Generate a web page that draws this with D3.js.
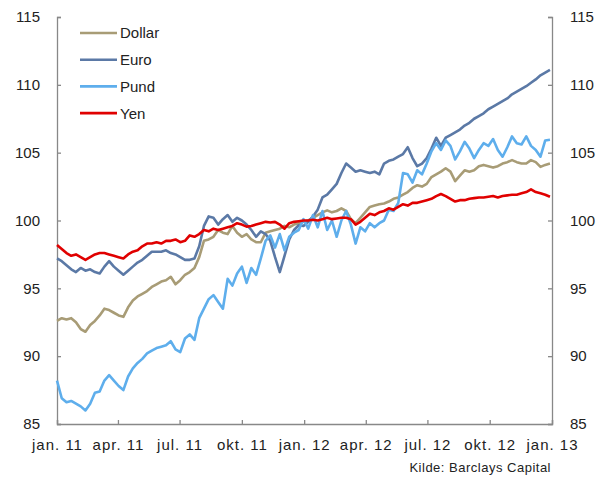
<!DOCTYPE html>
<html>
<head>
<meta charset="utf-8">
<script src="https://cdn.jsdelivr.net/npm/d3@7"></script>
<style>
  body { margin: 0; background: #fff; }
  text { font-family: "Liberation Sans", Arial, sans-serif; fill: #222; }
</style>
</head>
<body>
<div id="chart"></div>
<script>
// Weekly index values, jan. 2011 - jan. 2013
var dollar = [92.6, 92.8, 92.7, 92.8, 92.5, 92.0, 91.8, 92.3, 92.6, 93.0,
  93.5, 93.4, 93.2, 93.0, 92.9, 93.6, 94.1, 94.4, 94.6, 94.8,
  95.1, 95.3, 95.5, 95.6, 95.85, 95.3, 95.6, 96.0, 96.2, 96.5,
  97.3, 98.5, 98.6, 98.8, 99.3, 99.1, 99.0, 99.6, 99.1, 98.8,
  99.0, 98.6, 98.4, 98.4, 99.1, 99.2, 99.3, 99.4, 99.6, 99.5,
  99.7, 99.8, 99.9, 100.0, 100.2, 100.4, 100.6, 100.75, 100.6, 100.7,
  100.9, 100.7, 100.1, 99.8, 100.2, 100.6, 101.0, 101.1, 101.2, 101.25,
  101.4, 101.6, 101.7, 101.9, 102.1, 102.4, 102.6, 102.5, 102.7, 103.2,
  103.4, 103.6, 103.85, 103.6, 102.9, 103.3, 103.7, 103.6, 103.7, 104.0,
  104.1, 104.0, 103.9, 104.0, 104.2, 104.3, 104.45, 104.3, 104.2, 104.2,
  104.45, 104.3, 103.95, 104.1, 104.2];

var euro = [97.2, 97.0, 96.7, 96.4, 96.2, 96.5, 96.3, 96.4, 96.2, 96.1,
  96.6, 97.0, 96.6, 96.3, 96.0, 96.3, 96.6, 96.9, 97.1, 97.4,
  97.7, 97.7, 97.7, 97.8, 97.6, 97.5, 97.3, 97.1, 97.1, 97.2,
  98.1, 99.6, 100.3, 100.2, 99.7, 100.1, 100.4, 99.9, 100.2, 100.0,
  99.7, 99.3, 98.8, 99.2, 99.0, 98.5, 97.3, 96.2, 97.4, 98.6,
  99.3, 99.65, 99.6, 99.9, 100.3, 100.8, 101.7, 101.9, 102.3, 102.7,
  103.5, 104.2, 103.9, 103.6, 103.7, 103.6, 103.5, 103.6, 103.4, 104.2,
  104.4, 104.5, 104.7, 104.9, 105.4, 104.6, 104.0, 104.2, 104.6, 105.3,
  106.1, 105.5, 106.1, 106.3, 106.5, 106.7, 107.0, 107.2, 107.5, 107.7,
  107.9, 108.2, 108.4, 108.6, 108.8, 109.0, 109.3, 109.5, 109.7, 109.9,
  110.15, 110.4, 110.7, 110.9, 111.1];

var pund = [88.2, 86.9, 86.6, 86.7, 86.5, 86.3, 86.0, 86.5, 87.3, 87.4,
  88.2, 88.6, 88.2, 87.8, 87.5, 88.5, 89.1, 89.5, 89.8, 90.2,
  90.4, 90.6, 90.7, 90.8, 91.1, 90.5, 90.3, 91.3, 91.6, 91.2,
  92.8, 93.5, 94.2, 94.5, 94.0, 93.5, 95.7, 95.2, 96.1, 96.6,
  95.4, 96.5, 96.0, 97.2, 98.5, 98.9, 98.0, 99.0, 97.8, 98.8,
  99.1, 99.3, 100.1, 99.4, 100.4, 99.5, 100.7, 99.3, 100.0, 98.8,
  100.0, 100.7, 99.7, 98.3, 99.5, 99.2, 99.8, 99.5, 99.8, 100.0,
  100.8, 100.7, 101.3, 103.5, 103.4, 102.8, 103.7, 103.4, 104.2, 105.1,
  105.7, 105.2, 105.9, 105.5, 104.5, 105.1, 105.8, 105.3, 104.6, 105.2,
  105.7, 105.5, 106.0, 105.2, 104.7, 105.4, 106.2, 105.7, 105.6, 106.2,
  105.5, 105.2, 104.7, 105.9, 105.95];

var yen = [98.2, 97.9, 97.6, 97.4, 97.5, 97.3, 97.1, 97.3, 97.5, 97.6,
  97.6, 97.5, 97.4, 97.3, 97.2, 97.5, 97.7, 97.8, 98.1, 98.3,
  98.3, 98.4, 98.3, 98.5, 98.5, 98.6, 98.4, 98.5, 98.9, 98.8,
  99.0, 99.3, 99.2, 99.4, 99.3, 99.4, 99.5, 99.6, 99.8, 99.7,
  99.55, 99.6, 99.7, 99.8, 99.9, 99.85, 99.9, 99.7, 99.4, 99.8,
  99.9, 99.95, 100.0, 100.0, 100.05, 100.0, 100.1, 100.2, 100.1, 100.15,
  100.2, 100.2, 100.1, 99.7, 99.9, 100.2, 100.5, 100.4, 100.6, 100.7,
  100.9, 100.8, 101.0, 101.2, 101.1, 101.3, 101.3, 101.4, 101.5, 101.6,
  101.8, 101.95, 101.8, 101.6, 101.4, 101.5, 101.5, 101.6, 101.65, 101.7,
  101.7, 101.75, 101.8, 101.7, 101.8, 101.85, 101.9, 101.9, 102.0, 102.1,
  102.3, 102.1, 102.0, 101.9, 101.75];

var seriesNames = ["Dollar", "Euro", "Pund", "Yen"];
var seriesColors = ["#a89c76", "#5b79a6", "#5eaeec", "#e00000"];
var yTicks = [85, 90, 95, 100, 105, 110, 115];
var xTickLabels = ["jan. 11", "apr. 11", "jul. 11", "okt. 11", "jan. 12",
  "apr. 12", "jul. 12", "okt. 12", "jan. 13"];
var source = "Kilde: Barclays Capital";

var W = 596, H = 477;
var margin = { top: 17, right: 44, bottom: 53, left: 57 },
    width = W - margin.left - margin.right,
    height = H - margin.top - margin.bottom;

var svg = d3.select("#chart").append("svg")
    .attr("width", W)
    .attr("height", H);

var g = svg.append("g")
    .attr("transform", "translate(" + margin.left + "," + margin.top + ")");

var start = new Date(2011, 0, 1), end = new Date(2013, 0, 1);
var dates = dollar.map(function (d, i) { return d3.timeDay.offset(start, i * 7); });
var tickDates = xTickLabels.map(function (d, i) { return d3.timeMonth.offset(start, i * 3); });

var x = d3.scaleTime().domain([start, end]).range([0, width]);
var y = d3.scaleLinear().domain([85, 115]).range([height, 0]);

var axisColor = "#888";

// left axis
var yl = g.append("g")
    .call(d3.axisLeft(y).tickValues(yTicks).tickSize(-4).tickPadding(17));
// right axis
var yr = g.append("g")
    .attr("transform", "translate(" + width + ",0)")
    .call(d3.axisRight(y).tickValues(yTicks).tickSize(-4).tickPadding(18));
// bottom axis
var xa = g.append("g")
    .attr("transform", "translate(0," + height + ")")
    .call(d3.axisBottom(x).tickValues(tickDates).tickSize(-4).tickPadding(15)
      .tickFormat(function (d, i) { return xTickLabels[i]; }));

[yl, yr, xa].forEach(function (a) {
  a.select(".domain").attr("stroke", axisColor).attr("stroke-width", 1.3);
  a.selectAll(".tick line").attr("stroke", axisColor).attr("stroke-width", 1.3);
  a.selectAll(".tick text").attr("fill", "#222").style("font-size", "15px")
    .style("font-family", "Liberation Sans, Arial, sans-serif");
});
yr.selectAll(".tick text").attr("x", 18);
xa.selectAll(".tick text").style("letter-spacing", "1px");

// lines
var line = d3.line()
    .x(function (d, i) { return x(dates[i]); })
    .y(function (d) { return y(d); });

[dollar, euro, pund, yen].forEach(function (s, k) {
  g.append("path")
    .datum(s)
    .attr("fill", "none")
    .attr("stroke", seriesColors[k])
    .attr("stroke-width", 2.6)
    .attr("stroke-linejoin", "round")
    .attr("d", line);
});

// legend
var legend = svg.append("g").attr("transform", "translate(80,33)");
seriesNames.forEach(function (name, i) {
  var row = legend.append("g").attr("transform", "translate(0," + (i * 26.7) + ")");
  row.append("line")
    .attr("x1", 0).attr("x2", 37)
    .attr("stroke", seriesColors[i])
    .attr("stroke-width", 2.6);
  row.append("text")
    .attr("x", 40)
    .attr("dy", "0.36em")
    .style("font-size", "15px")
    .text(name);
});

// source
svg.append("text")
    .attr("x", 551)
    .attr("y", 472)
    .attr("text-anchor", "end")
    .style("font-size", "13px")
    .style("letter-spacing", "0.5px")
    .text(source);
</script>
</body>
</html>
